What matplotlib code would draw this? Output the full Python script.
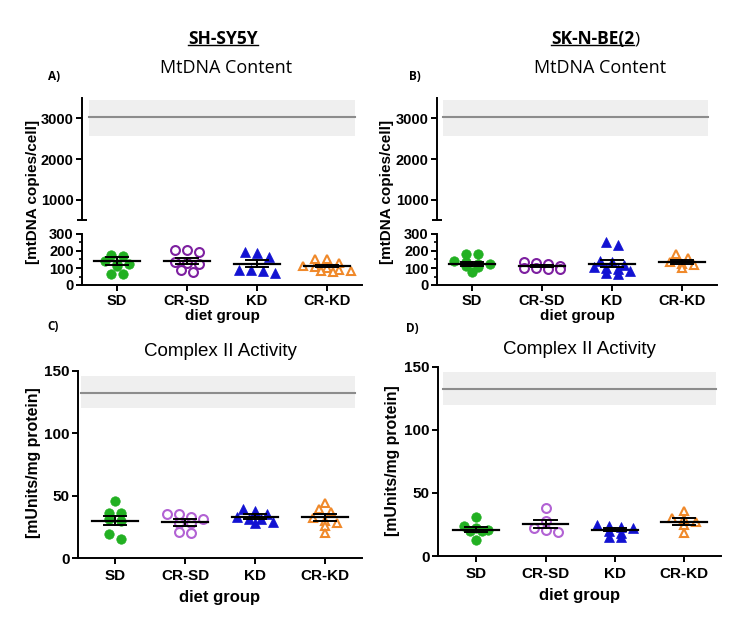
import matplotlib
matplotlib.use('Agg')
import matplotlib.pyplot as plt
import numpy as np
from matplotlib.lines import Line2D
from matplotlib.ticker import FixedLocator

# ---------------- data ----------------
groups = ['SD', 'CR-SD', 'KD', 'CR-KD']

A_SD = [178, 173, 142, 124, 124, 110, 66, 66]
A_CRSD = [207, 203, 194, 136, 130, 125, 87, 76]
A_KD = [192, 188, 163, 87, 87, 80, 68]
A_CRKD = [155, 150, 130, 112, 105, 100, 90, 85, 80, 75]
A_mean = [141, 142, 126, 113]
A_sem = [24, 18, 20, 7]

B_SD = [183, 180, 140, 135, 125, 122, 110, 105, 76]
B_CRSD = [135, 130, 125, 112, 100, 97, 96, 100]
B_KD = [250, 238, 140, 135, 115, 105, 100, 95, 80, 70, 65]
B_CRKD = [180, 158, 135, 125, 120, 100]
B_mean = [124, 112, 126, 136]
B_sem = [11, 6, 19, 12]

C_SD = [46, 36, 36, 31, 30, 19, 15]
C_CRSD = [35, 35, 33, 31, 28, 28, 21, 20]
C_KD = [39, 38, 35, 33, 31, 31, 29, 28]
C_CRKD = [44, 39, 37, 32, 30, 28, 26, 20]
C_mean = [30, 28.5, 33, 32.5]
C_sem = [3.6, 2.7, 2.1, 2.9]

D_SD = [31, 24, 22, 21, 20, 20, 13]
D_CRSD = [38, 28, 22, 21, 19]
D_KD = [25, 24, 23, 22, 20, 18, 15, 15]
D_CRKD = [36, 30, 29, 27, 25, 18]
D_mean = [21, 25.5, 21, 27.2]
D_sem = [2.0, 3.2, 1.0, 2.8]

mt_ref = 3030
mt_band = (2560, 3450)
c2_ref = 132.5
c2_band = (120, 146)

# ---------------- style ----------------
W, H = 750, 629
fig = plt.figure(figsize=(7.5, 6.29), dpi=100)
ARIAL = 'Liberation Sans'
CAL = 'Open Sans'

green = '#22b022'
purple_dark = '#7d1fa0'
purple_light = '#b262d4'
blue = '#1212d2'
orange = '#f0892a'

def fx(px):
    return px / W

def fy(py):
    return 1 - py / H

def make_ax(left, right, top, bottom):
    return fig.add_axes([fx(left), fy(bottom), (right - left) / W, (bottom - top) / H])

def style_spines(ax, bottom=True):
    for s in ['top', 'right']:
        ax.spines[s].set_visible(False)
    ax.spines['left'].set_linewidth(1.4)
    ax.spines['bottom'].set_linewidth(1.4)
    if not bottom:
        ax.spines['bottom'].set_visible(False)

def row_x(ax, x0, vals, bin_px=5.0, step_px=12.0, max_half_px=26.0):
    """GraphPad-like scatter: points of similar value share a centred row."""
    t = ax.transData
    p = t.transform([(0, 0), (1, 0)])
    pxx = p[1, 0] - p[0, 0]
    ys = t.transform([(x0, v) for v in vals])[:, 1]
    order = list(np.argsort(-ys))
    rows, cur = [], []
    for i in order:
        if cur and ys[cur[0]] - ys[i] > bin_px:
            rows.append(cur)
            cur = []
        cur.append(i)
    rows.append(cur)
    xs = np.zeros(len(vals))
    for r in rows:
        n = len(r)
        step = step_px
        if n > 1 and (n - 1) * step / 2 > max_half_px:
            step = 2 * max_half_px / (n - 1)
        for k, i in enumerate(r):
            xs[i] = x0 + (k - (n - 1) / 2) * step / pxx
    return xs

def draw_groups(ax, data, means, sems, purple):
    specs = [
        dict(marker='o', color=green, filled=True),
        dict(marker='o', color=purple, filled=False),
        dict(marker='^', color=blue, filled=True),
        dict(marker='^', color=orange, filled=False),
    ]
    for gi, (vals, sp) in enumerate(zip(data, specs)):
        xs = row_x(ax, gi, vals)
        if sp['filled']:
            ax.plot(xs, vals, ls='none', marker=sp['marker'], ms=6.8,
                    mfc=sp['color'], mec=sp['color'], mew=0.5, zorder=3, clip_on=False)
        else:
            ax.plot(xs, vals, ls='none', marker=sp['marker'], ms=6.4,
                    mfc='white', mec=sp['color'], mew=1.5, zorder=3, clip_on=False)
        m, s = means[gi], sems[gi]
        ax.plot([gi - 0.33, gi + 0.33], [m, m], color='black', lw=1.6, zorder=4)
        ax.plot([gi, gi], [m - s, m + s], color='black', lw=1.4, zorder=4)
        for v in (m - s, m + s):
            ax.plot([gi - 0.16, gi + 0.16], [v, v], color='black', lw=1.4, zorder=4)

def tickfont(ax, size):
    for lab in ax.get_xticklabels() + ax.get_yticklabels():
        lab.set_fontfamily(ARIAL)
        lab.set_fontweight('bold')
        lab.set_fontsize(size)

# ---------------- top panels (broken axis) ----------------
def top_panel(left, right, data, means, sems, xl, xr, band_fr):
    up = make_ax(left, right, 98, 220)
    lo = make_ax(left, right, 234, 285)
    up.set_xlim(xl, xr)
    up.set_ylim(500, 3500)
    style_spines(up, bottom=False)
    up.set_xticks([])
    up.set_yticks([1000, 2000, 3000])
    up.yaxis.set_minor_locator(FixedLocator([500]))
    up.tick_params(axis='y', which='major', direction='out', length=4.5, width=1.4, pad=1.5)
    up.tick_params(axis='y', which='minor', direction='inout', length=7, width=1.4)
    up.axhspan(mt_band[0], mt_band[1], xmin=band_fr[0], xmax=band_fr[1], color='#efefef', lw=0, zorder=0)
    up.axhline(mt_ref, xmin=band_fr[0], xmax=band_fr[1], color='#8c8c8c', lw=1.5, zorder=1)
    tickfont(up, 10.5)
    lo.set_xlim(xl, xr)
    lo.set_ylim(0, 300)
    style_spines(lo)
    lo.set_yticks([0, 100, 200, 300])
    lo.yaxis.set_minor_locator(FixedLocator([50, 150, 250]))
    lo.set_xticks(range(4))
    lo.set_xticklabels(groups)
    lo.tick_params(axis='y', which='major', direction='out', length=4.5, width=1.4, pad=1.5)
    lo.tick_params(axis='y', which='minor', direction='out', length=2.5, width=1.2)
    lo.tick_params(axis='x', which='major', direction='out', length=4, width=1.4, pad=2.5)
    tickfont(lo, 10.5)
    lo.set_xlabel('diet group', fontfamily=ARIAL, fontweight='bold', fontsize=11, labelpad=1)
    draw_groups(lo, data, means, sems, purple_dark)
    return up, lo

top_panel(82, 362, [A_SD, A_CRSD, A_KD, A_CRKD], A_mean, A_sem, -0.5, 3.5, (0.025, 0.975))
top_panel(437, 717, [B_SD, B_CRSD, B_KD, B_CRKD], B_mean, B_sem, -0.5, 3.5, (0.021, 0.968))

# ---------------- bottom panels ----------------
def bottom_panel(left, right, top, bottom, data, means, sems, xl, xr, band_fr):
    ax = make_ax(left, right, top, bottom)
    ax.set_xlim(xl, xr)
    ax.set_ylim(0, 150)
    style_spines(ax)
    ax.set_yticks([0, 50, 100, 150])
    ax.set_xticks(range(4))
    ax.set_xticklabels(groups)
    ax.tick_params(axis='y', direction='out', length=4.5, width=1.4, pad=1.5)
    ax.tick_params(axis='x', direction='out', length=4, width=1.4, pad=4)
    tickfont(ax, 11)
    ax.set_xlabel('diet group', fontfamily=ARIAL, fontweight='bold', fontsize=12, labelpad=5)
    ax.axhspan(c2_band[0], c2_band[1], xmin=band_fr[0], xmax=band_fr[1], color='#efefef', lw=0, zorder=0)
    ax.axhline(c2_ref, xmin=band_fr[0], xmax=band_fr[1], color='#8c8c8c', lw=1.5, zorder=1)
    draw_groups(ax, data, means, sems, purple_light)
    return ax

bottom_panel(78, 362, 371, 558, [C_SD, C_CRSD, C_KD, C_CRKD], C_mean, C_sem, -0.53, 3.53, (0.01, 0.975))
bottom_panel(438, 721, 367, 556, [D_SD, D_CRSD, D_KD, D_CRKD], D_mean, D_sem, -0.55, 3.53, (0.018, 0.982))

# ---------------- texts ----------------
fig.text(fx(33), fy(192), '[mtDNA copies/cell]', rotation=90, ha='center', va='center',
         fontfamily=ARIAL, fontweight='bold', fontsize=11)
fig.text(fx(387), fy(192), '[mtDNA copies/cell]', rotation=90, ha='center', va='center',
         fontfamily=ARIAL, fontweight='bold', fontsize=11)
fig.text(fx(34), fy(463), '[mUnits/mg protein]', rotation=90, ha='center', va='center',
         fontfamily=ARIAL, fontweight='bold', fontsize=11.4)
fig.text(fx(393), fy(461), '[mUnits/mg protein]', rotation=90, ha='center', va='center',
         fontfamily=ARIAL, fontweight='bold', fontsize=11.4)

fig.text(fx(226), fy(68), 'MtDNA Content', ha='center', va='center', fontfamily=CAL, fontsize=13)
fig.text(fx(600), fy(68), 'MtDNA Content', ha='center', va='center', fontfamily=CAL, fontsize=13)
fig.text(fx(220), fy(352), 'Complex II Activity', ha='center', va='center', fontfamily=ARIAL, fontsize=13.5)
fig.text(fx(579), fy(350), 'Complex II Activity', ha='center', va='center', fontfamily=ARIAL, fontsize=13.5)

for lab, x, y in [('A)', 54, 77), ('B)', 415, 77), ('C)', 53, 327), ('D)', 412, 328)]:
    fig.text(fx(x), fy(y), lab, ha='center', va='center', fontfamily=CAL, fontweight='bold', fontsize=8.5)

t1 = fig.text(fx(223), fy(39), 'SH-SY5Y', ha='center', va='center', fontfamily=CAL,
              fontweight='bold', fontsize=12.5)
t2 = fig.text(fx(634), fy(39), 'SK-N-BE(2', ha='right', va='center', fontfamily=CAL,
              fontweight='bold', fontsize=12.5)
t3 = fig.text(fx(634), fy(39), ')', ha='left', va='center', fontfamily=CAL, fontsize=12.5)

fig.canvas.draw()
r = fig.canvas.get_renderer()
for t in (t1, t2):
    bb = t.get_window_extent(r)
    yline = (bb.y0 + 3.5) / H
    fig.add_artist(Line2D([bb.x0 / W, bb.x1 / W], [yline, yline], transform=fig.transFigure,
                          color='black', lw=1.0))

fig.savefig('out.png', dpi=100)
